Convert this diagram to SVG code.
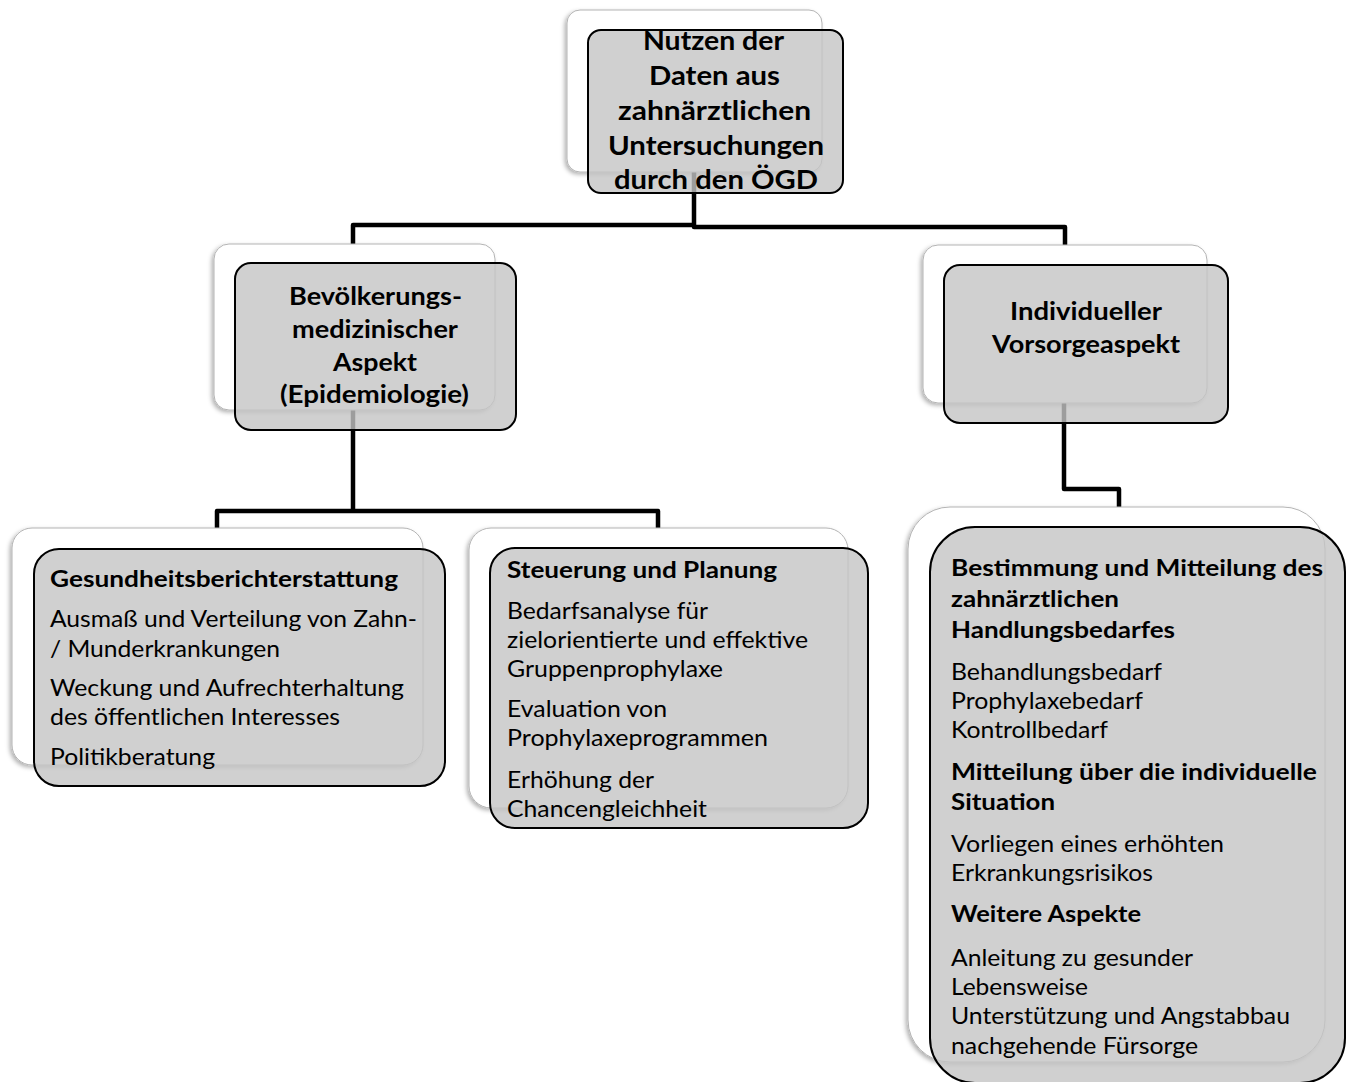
<svg xmlns="http://www.w3.org/2000/svg" width="1360" height="1082" viewBox="0 0 1360 1082">
<defs>
<filter id="sh" x="-10%" y="-10%" width="120%" height="120%">
<feDropShadow dx="-2" dy="2" stdDeviation="2" flood-color="#000" flood-opacity="0.3"/>
</filter>
<style>
.back{fill:#fff;stroke:#b4b4b4;stroke-width:1;filter:url(#sh)}
.front{fill:#c4c4c4;fill-opacity:0.8;stroke:#000;stroke-width:2}
.conn{fill:none;stroke:#000;stroke-width:4.5;stroke-linejoin:round}
text{font-family:Lato,"Open Sans","DejaVu Sans",sans-serif;fill:#000}
.b{font-weight:bold}
.r{font-weight:normal}
.s1{font-size:27px}
.s2{font-size:25px}
.s3{font-size:23px}
</style>
</defs>
<rect width="1360" height="1082" fill="#fff"/>
<g id="connectors">
<path class="conn" d="M694,165 V227 H1065 V252"/>
<path class="conn" d="M353,252 V225 H694"/>
<path class="conn" d="M353,400 V511"/>
<path class="conn" d="M217,535 V511 H658 V535"/>
<path class="conn" d="M1064,395 V489 H1119 V515"/>
</g>
<g id="node-root">
<rect class="back" x="567" y="10" width="255" height="162" rx="13"/>
<rect class="front" x="588" y="30" width="255" height="163" rx="13"/>
<text class="b s1" x="643" y="50" textLength="141" lengthAdjust="spacingAndGlyphs">Nutzen der</text>
<text class="b s1" x="649" y="85" textLength="131" lengthAdjust="spacingAndGlyphs">Daten aus</text>
<text class="b s1" x="618" y="120" textLength="193" lengthAdjust="spacingAndGlyphs">zahnärztlichen</text>
<text class="b s1" x="608" y="155" textLength="216" lengthAdjust="spacingAndGlyphs">Untersuchungen</text>
<text class="b s1" x="614" y="189" textLength="204" lengthAdjust="spacingAndGlyphs">durch den ÖGD</text>
</g>
<g id="node-bev">
<rect class="back" x="214" y="244" width="281" height="166" rx="15"/>
<rect class="front" x="235" y="263" width="281" height="167" rx="16"/>
<text class="b s2" x="289" y="305" textLength="173" lengthAdjust="spacingAndGlyphs">Bevölkerungs-</text>
<text class="b s2" x="292" y="338" textLength="166" lengthAdjust="spacingAndGlyphs">medizinischer</text>
<text class="b s2" x="333" y="371" textLength="84" lengthAdjust="spacingAndGlyphs">Aspekt</text>
<text class="b s2" x="280" y="403" textLength="189" lengthAdjust="spacingAndGlyphs">(Epidemiologie)</text>
</g>
<g id="node-ind">
<rect class="back" x="923" y="245" width="284" height="158" rx="15"/>
<rect class="front" x="944" y="265" width="284" height="158" rx="16"/>
<text class="b s2" x="1010" y="320" textLength="152" lengthAdjust="spacingAndGlyphs">Individueller</text>
<text class="b s2" x="992" y="353" textLength="188" lengthAdjust="spacingAndGlyphs">Vorsorgeaspekt</text>
</g>
<g id="node-ges">
<rect class="back" x="12" y="528" width="411" height="237" rx="20"/>
<rect class="front" x="34" y="549" width="411" height="237" rx="25"/>
<text class="b s3" x="50" y="587" textLength="348" lengthAdjust="spacingAndGlyphs">Gesundheitsberichterstattung</text>
<text class="r s3" x="50" y="627" textLength="367" lengthAdjust="spacingAndGlyphs">Ausmaß und Verteilung von Zahn-</text>
<text class="r s3" x="50" y="657" textLength="230" lengthAdjust="spacingAndGlyphs">/ Munderkrankungen</text>
<text class="r s3" x="50" y="696" textLength="354" lengthAdjust="spacingAndGlyphs">Weckung und Aufrechterhaltung</text>
<text class="r s3" x="50" y="725" textLength="290" lengthAdjust="spacingAndGlyphs">des öffentlichen Interesses</text>
<text class="r s3" x="50" y="765" textLength="165" lengthAdjust="spacingAndGlyphs">Politikberatung</text>
</g>
<g id="node-steu">
<rect class="back" x="469" y="528" width="379" height="280" rx="22"/>
<rect class="front" x="490" y="548" width="378" height="280" rx="25"/>
<text class="b s3" x="507" y="578" textLength="270" lengthAdjust="spacingAndGlyphs">Steuerung und Planung</text>
<text class="r s3" x="507" y="619" textLength="201" lengthAdjust="spacingAndGlyphs">Bedarfsanalyse für</text>
<text class="r s3" x="507" y="648" textLength="301" lengthAdjust="spacingAndGlyphs">zielorientierte und effektive</text>
<text class="r s3" x="507" y="677" textLength="216" lengthAdjust="spacingAndGlyphs">Gruppenprophylaxe</text>
<text class="r s3" x="507" y="717" textLength="160" lengthAdjust="spacingAndGlyphs">Evaluation von</text>
<text class="r s3" x="507" y="746" textLength="261" lengthAdjust="spacingAndGlyphs">Prophylaxeprogrammen</text>
<text class="r s3" x="507" y="788" textLength="147" lengthAdjust="spacingAndGlyphs">Erhöhung der</text>
<text class="r s3" x="507" y="817" textLength="200" lengthAdjust="spacingAndGlyphs">Chancengleichheit</text>
</g>
<g id="node-best">
<rect class="back" x="908" y="507" width="417" height="555" rx="42"/>
<rect class="front" x="930" y="527" width="415" height="556" rx="45"/>
<text class="b s3" x="951" y="576" textLength="372" lengthAdjust="spacingAndGlyphs">Bestimmung und Mitteilung des</text>
<text class="b s3" x="951" y="607" textLength="168" lengthAdjust="spacingAndGlyphs">zahnärztlichen</text>
<text class="b s3" x="951" y="638" textLength="224" lengthAdjust="spacingAndGlyphs">Handlungsbedarfes</text>
<text class="r s3" x="951" y="680" textLength="211" lengthAdjust="spacingAndGlyphs">Behandlungsbedarf</text>
<text class="r s3" x="951" y="709" textLength="192" lengthAdjust="spacingAndGlyphs">Prophylaxebedarf</text>
<text class="r s3" x="951" y="738" textLength="157" lengthAdjust="spacingAndGlyphs">Kontrollbedarf</text>
<text class="b s3" x="951" y="780" textLength="366" lengthAdjust="spacingAndGlyphs">Mitteilung über die individuelle</text>
<text class="b s3" x="951" y="810" textLength="104" lengthAdjust="spacingAndGlyphs">Situation</text>
<text class="r s3" x="951" y="852" textLength="273" lengthAdjust="spacingAndGlyphs">Vorliegen eines erhöhten</text>
<text class="r s3" x="951" y="881" textLength="202" lengthAdjust="spacingAndGlyphs">Erkrankungsrisikos</text>
<text class="b s3" x="951" y="922" textLength="190" lengthAdjust="spacingAndGlyphs">Weitere Aspekte</text>
<text class="r s3" x="951" y="966" textLength="242" lengthAdjust="spacingAndGlyphs">Anleitung zu gesunder</text>
<text class="r s3" x="951" y="995" textLength="137" lengthAdjust="spacingAndGlyphs">Lebensweise</text>
<text class="r s3" x="951" y="1024" textLength="339" lengthAdjust="spacingAndGlyphs">Unterstützung und Angstabbau</text>
<text class="r s3" x="951" y="1054" textLength="247" lengthAdjust="spacingAndGlyphs">nachgehende Fürsorge</text>
</g>
</svg>
